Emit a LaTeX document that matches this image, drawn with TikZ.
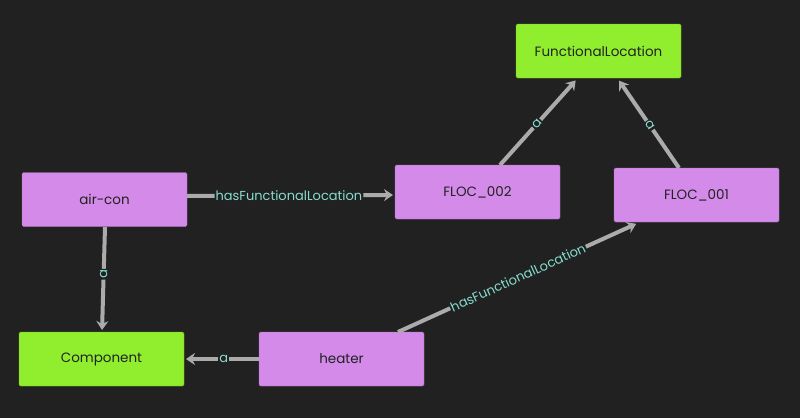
\documentclass[tikz,border=0pt]{standalone}
\usepackage{fontspec}
\setmainfont{Poppins}
\usetikzlibrary{arrows.meta}
\definecolor{bg}{HTML}{212121}
\definecolor{inst}{HTML}{D38AE8}
\definecolor{cls}{HTML}{91EE2E}
\definecolor{edge}{HTML}{ABABAB}
\definecolor{lbl}{HTML}{86DDCF}
\definecolor{ntext}{HTML}{222222}
\tikzset{
  box/.style={rounded corners=1.5pt, minimum width=165pt, minimum height=54pt, inner sep=0pt, font=\fontsize{13.5}{15}\selectfont, text=ntext},
  instbox/.style={box, fill=inst, draw=inst!80!black, line width=0.4pt},
  clsbox/.style={box, fill=cls, draw=cls!80!black, line width=0.4pt},
  rel/.style={draw=edge, line width=4pt, -{Stealth[length=9pt, width=12pt, inset=3pt]}, shorten >=2pt},
  elabel/.style={fill=bg, text=lbl, inner sep=1pt, font=\fontsize{13}{15}\selectfont, sloped},
}
\begin{document}
\begin{tikzpicture}[x=1pt, y=-1pt]
\fill[bg] (0,0) rectangle (800,418);
\useasboundingbox (0,0) rectangle (800,418);
\node[clsbox] (fl) at (598.5,51) {FunctionalLocation};
\node[instbox] (aircon) at (104.5,199.5) {air-con};
\node[instbox] (f2) at (477.5,192) {FLOC\_002};
\node[instbox] (f1) at (696.5,195) {FLOC\_001};
\node[clsbox] (comp) at (101.5,359) {Component};
\node[instbox] (heater) at (341.5,359) {heater};

\coordinate (s1) at (187,196); \coordinate (e1) at (395,195);
\coordinate (s2) at (500,165); \coordinate (e2) at (577,79);
\coordinate (s3) at (679,168); \coordinate (e3) at (618,79);
\coordinate (s4) at (398,332); \coordinate (e4) at (638,223);
\coordinate (s5) at (105,227); \coordinate (e5) at (102,332);
\coordinate (s6) at (259,359); \coordinate (e6) at (184,359);

\draw[rel] (s1) -- node[elabel, pos=0.49] {hasFunctionalLocation} (e1);
\draw[rel] (s2) -- node[elabel, pos=0.48] {a} (e2);
\draw[rel] (s3) -- node[elabel, pos=0.48] {a} (e3);
\draw[rel] (s4) -- node[elabel, pos=0.5] {hasFunctionalLocation} (e4);
\draw[rel] (s5) -- node[elabel, pos=0.45] {a} (e5);
\draw[rel] (s6) -- node[elabel, pos=0.47] {a} (e6);
\end{tikzpicture}
\end{document}
